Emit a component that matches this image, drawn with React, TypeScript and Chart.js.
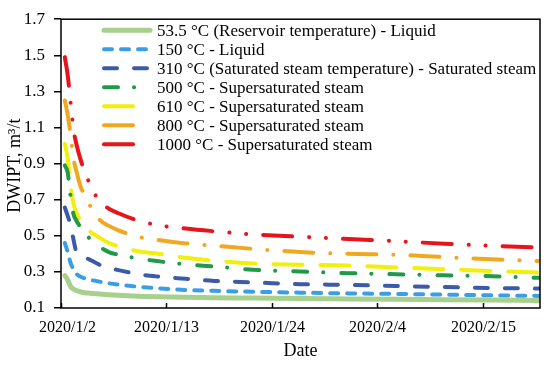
import React, { useEffect, useRef } from "react";
import { Chart, registerables } from "chart.js";

Chart.register(...registerables);

// Days elapsed since 2020/1/2
const days = [0.4, 0.7, 1, 1.3, 1.6, 2, 2.5, 3, 4, 5, 6, 8, 10, 13, 16, 20, 25, 30, 35, 40, 45, 50];

const t53 = [0.28, 0.255, 0.22, 0.205, 0.197, 0.19, 0.185, 0.182, 0.177, 0.173, 0.17, 0.165, 0.162, 0.159, 0.157, 0.155, 0.152, 0.15, 0.148, 0.146, 0.144, 0.142];
const t150 = [0.46, 0.41, 0.35, 0.315, 0.29, 0.274, 0.264, 0.257, 0.246, 0.237, 0.23, 0.218, 0.21, 0.2, 0.195, 0.19, 0.185, 0.181, 0.178, 0.174, 0.17, 0.167];
const t310 = [0.657, 0.61, 0.56, 0.48, 0.41, 0.39, 0.38, 0.368, 0.34, 0.322, 0.31, 0.288, 0.275, 0.262, 0.25, 0.242, 0.232, 0.228, 0.222, 0.216, 0.211, 0.208];
const t500 = [0.89, 0.85, 0.72, 0.62, 0.585, 0.55, 0.51, 0.485, 0.44, 0.41, 0.395, 0.375, 0.36, 0.342, 0.33, 0.312, 0.302, 0.293, 0.287, 0.281, 0.276, 0.267];
const t610 = [1.01, 0.93, 0.78, 0.68, 0.63, 0.585, 0.55, 0.525, 0.49, 0.46, 0.442, 0.415, 0.402, 0.378, 0.362, 0.347, 0.34, 0.335, 0.325, 0.315, 0.305, 0.296];
const t800 = [1.25, 1.17, 1.06, 0.93, 0.86, 0.78, 0.72, 0.67, 0.59, 0.555, 0.53, 0.495, 0.478, 0.458, 0.445, 0.428, 0.41, 0.4, 0.395, 0.382, 0.37, 0.36];
const t1000 = [1.49, 1.39, 1.24, 1.09, 1.01, 0.93, 0.85, 0.79, 0.69, 0.65, 0.625, 0.585, 0.56, 0.54, 0.525, 0.508, 0.495, 0.482, 0.47, 0.456, 0.445, 0.435];

const seriesLabels = [
  "53.5 °C (Reservoir temperature) - Liquid",
  "150 °C - Liquid",
  "310 °C (Saturated steam temperature) - Saturated steam",
  "500 °C - Supersaturated steam",
  "610 °C - Supersaturated steam",
  "800 °C - Supersaturated steam",
  "1000 °C - Supersaturated steam",
];

const xTickDays = [0, 11, 22, 33, 44];
const xTickLabels = ["2020/1/2", "2020/1/13", "2020/1/24", "2020/2/4", "2020/2/15"];
const yTickValues = [0.1, 0.3, 0.5, 0.7, 0.9, 1.1, 1.3, 1.5, 1.7];
const xTitle = "Date";
const yTitle = "DWIPT, m³/t";

const seriesValues = [t53, t150, t310, t500, t610, t800, t1000];
const seriesColors = ["#a8d08d", "#3a9ee6", "#3b5aa8", "#22994a", "#f0f00a", "#f0a820", "#e8141c"];
const seriesDashes = [
  [],
  [8, 9],
  [13, 17],
  [14, 16, 0.1, 18],
  [29, 18],
  [29, 17, 0.1, 17],
  [29, 17, 0.1, 16.7, 0.1, 17],
];
const seriesWidths = [5, 4, 4, 4, 4, 4, 4];

const FONT = '"Liberation Serif", "Times New Roman", serif';

const decoPlugin = {
  id: "deco",
  afterDraw(chart: any) {
    const ctx = chart.ctx;
    const a = chart.chartArea;
    ctx.save();
    ctx.setLineDash([]);
    ctx.strokeStyle = "#000";
    ctx.lineWidth = 1.5;
    ctx.strokeRect(a.left, a.top, a.right - a.left, a.bottom - a.top);
    const xs = chart.scales.x;
    ctx.fillStyle = "#000";
    ctx.font = `16px ${FONT}`;
    ctx.textAlign = "center";
    ctx.textBaseline = "middle";
    xTickDays.forEach((d, i) => {
      const px = Math.round(xs.getPixelForValue(d)) + 0.5;
      ctx.beginPath();
      ctx.moveTo(px, a.bottom);
      ctx.lineTo(px, a.bottom - 5);
      ctx.stroke();
      const shift = i === 0 ? 6 : 0;
      ctx.fillText(xTickLabels[i], px + shift, a.bottom + 20);
    });
    // titles
    ctx.font = `18px ${FONT}`;
    ctx.fillText(xTitle, (a.left + a.right) / 2, a.bottom + 43);
    ctx.save();
    ctx.translate(15, (a.top + a.bottom) / 2 + 2);
    ctx.rotate(-Math.PI / 2);
    ctx.fillText(yTitle, 0, 0);
    ctx.restore();
    // legend
    ctx.font = `17px ${FONT}`;
    ctx.textAlign = "left";
    chart.data.datasets.forEach((ds: any, i: number) => {
      const y = a.top + 11 + i * 19;
      ctx.save();
      ctx.strokeStyle = ds.borderColor;
      ctx.lineWidth = ds.borderWidth;
      ctx.lineCap = "round";
      ctx.setLineDash(ds.borderDash || []);
      ctx.beginPath();
      ctx.moveTo(a.left + 43, y);
      ctx.lineTo(a.left + 89, y);
      ctx.stroke();
      ctx.restore();
      ctx.fillStyle = "#000";
      ctx.fillText(ds.label, a.left + 96, y + 1);
    });
    ctx.restore();
  },
};

export default function App() {
  const ref = useRef<HTMLCanvasElement>(null);
  useEffect(() => {
    document.body.style.margin = "0";
    const canvas = ref.current!;
    const datasets = seriesValues.map((vals, i) => ({
      label: seriesLabels[i],
      data: days.map((d, j) => ({ x: d, y: vals[j] })),
      borderColor: seriesColors[i],
      backgroundColor: seriesColors[i],
      borderWidth: seriesWidths[i],
      borderDash: seriesDashes[i],
      borderCapStyle: "round",
      borderJoinStyle: "round",
      pointRadius: 0,
      cubicInterpolationMode: "monotone",
      fill: false,
    }));
    const chart = new Chart(canvas, {
      type: "line",
      data: { datasets } as any,
      options: {
        animation: false,
        responsive: false,
        maintainAspectRatio: false,
        layout: { padding: { top: 12, right: 10, left: 0, bottom: 0 } },
        plugins: { legend: { display: false }, tooltip: { enabled: false } },
        scales: {
          x: {
            type: "linear",
            min: 0,
            max: 50,
            afterBuildTicks: (s: any) => {
              s.ticks = xTickDays.map((v) => ({ value: v }));
            },
            afterFit: (s: any) => {
              s.height = 57;
            },
            ticks: { display: false },
            grid: { display: false, drawTicks: false },
            border: { display: false },
          },
          y: {
            type: "linear",
            min: 0.1,
            max: 1.7,
            afterBuildTicks: (s: any) => {
              s.ticks = yTickValues.map((v) => ({ value: v }));
            },
            afterFit: (s: any) => {
              s.width = 61;
            },
            ticks: {
              padding: 9,
              color: "#000",
              font: { family: FONT, size: 17 },
              callback: (v: any) => Number(v).toFixed(1),
            },
            grid: {
              drawOnChartArea: false,
              drawTicks: true,
              tickLength: 7,
              color: "#000",
              lineWidth: 1.5,
            },
            border: { display: false },
          },
        },
      } as any,
      plugins: [decoPlugin],
    });
    return () => chart.destroy();
  }, []);
  return (
    <div style={{ width: 550, height: 365 }}>
      <canvas ref={ref} width={550} height={365} style={{ display: "block" }} />
    </div>
  );
}
